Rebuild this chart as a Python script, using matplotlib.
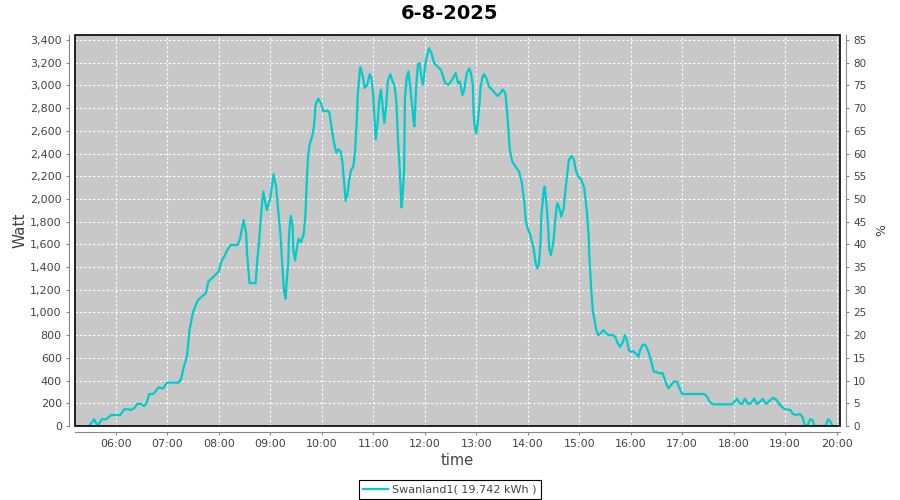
import matplotlib
matplotlib.use("Agg")
import matplotlib.pyplot as plt
from matplotlib.patches import Rectangle
from matplotlib.ticker import FuncFormatter

title = "6-8-2025"
series_name = "Swanland1( 19.742 kWh )"

times = [
    "05:29", "05:35", "05:39", "05:44", "05:49", "05:55", "06:00", "06:05", "06:10", "06:15",
    "06:18", "06:22", "06:25", "06:30", "06:33", "06:36", "06:39", "06:44", "06:48", "06:50",
    "06:55", "07:00", "07:10", "07:13", "07:16", "07:19", "07:23", "07:26", "07:30", "07:33",
    "07:36", "07:42", "07:45", "07:48", "07:52", "07:56", "08:00", "08:03", "08:07", "08:10",
    "08:14", "08:22", "08:25", "08:29", "08:32", "08:33", "08:36", "08:40", "08:43", "08:45",
    "08:47", "08:50", "08:52", "08:56", "08:58", "09:00", "09:04", "09:07", "09:09", "09:12",
    "09:14", "09:16", "09:18", "09:19", "09:21", "09:22", "09:24", "09:26", "09:27", "09:29",
    "09:30", "09:33", "09:36", "09:39", "09:41", "09:43", "09:44", "09:46", "09:49", "09:51",
    "09:53", "09:56", "09:59", "10:02", "10:07", "10:09", "10:11", "10:14", "10:17", "10:19",
    "10:22", "10:24", "10:26", "10:28", "10:30", "10:32", "10:34", "10:37", "10:39", "10:41",
    "10:42", "10:44", "10:45", "10:48", "10:50", "10:53", "10:56", "10:58", "11:00", "11:02",
    "11:03", "11:05", "11:07", "11:09", "11:10", "11:12", "11:13", "11:15", "11:17", "11:20",
    "11:22", "11:25", "11:27", "11:29", "11:31", "11:33", "11:34", "11:36", "11:37", "11:39",
    "11:41", "11:43", "11:45", "11:47", "11:48", "11:50", "11:52", "11:54", "11:56", "11:58",
    "12:00", "12:02", "12:05", "12:08", "12:11", "12:15", "12:19", "12:22", "12:24", "12:28",
    "12:32", "12:36", "12:39", "12:41", "12:44", "12:46", "12:49", "12:52", "12:54", "12:56",
    "12:57", "12:58", "13:00", "13:02", "13:04", "13:05", "13:07", "13:09", "13:12", "13:15",
    "13:19", "13:22", "13:25", "13:28", "13:31", "13:34", "13:36", "13:38", "13:39", "13:42",
    "13:46", "13:50", "13:53", "13:56", "13:58", "14:00", "14:03", "14:07", "14:09", "14:11",
    "14:13", "14:15", "14:16", "14:19", "14:20", "14:22", "14:24", "14:25", "14:27", "14:30",
    "14:32", "14:34", "14:35", "14:38", "14:39", "14:42", "14:44", "14:46", "14:48", "14:51",
    "14:54", "14:56", "14:59", "15:02", "15:04", "15:06", "15:09", "15:11", "15:12", "15:14",
    "15:16", "15:18", "15:20", "15:22", "15:25", "15:28", "15:31", "15:34", "15:39", "15:42",
    "15:45", "15:48", "15:51", "15:53", "15:55", "15:58", "16:00", "16:03", "16:07", "16:09",
    "16:11", "16:14", "16:17", "16:20", "16:23", "16:25", "16:27", "16:30", "16:33", "16:37",
    "16:39", "16:42", "16:44", "16:47", "16:50", "16:54", "16:57", "17:00", "17:26", "17:29",
    "17:32", "17:36", "17:58", "18:01", "18:04", "18:07", "18:10", "18:13", "18:17", "18:20",
    "18:24", "18:27", "18:30", "18:34", "18:38", "18:42", "18:46", "18:50", "18:54", "18:58",
    "19:01", "19:06", "19:09", "19:13", "19:17", "19:20", "19:23", "19:26", "19:29", "19:32",
    "19:34", "19:47", "19:50", "19:52", "19:55",
]

watts = [
    0, 59, 0, 60, 60, 97, 97, 95, 147, 147,
    140, 160, 194, 194, 175, 200, 282, 282, 320, 340,
    330, 382, 382, 380, 410, 508, 611, 845, 1000, 1060,
    1110, 1150, 1169, 1271, 1300, 1330, 1360, 1447, 1500, 1550,
    1594, 1594, 1653, 1814, 1700, 1521, 1257, 1260, 1257, 1460,
    1620, 1917, 2064, 1902, 1950, 2000, 2217, 2100, 1925, 1690,
    1430, 1195, 1122, 1254, 1430, 1690, 1852, 1779, 1546, 1458,
    1517, 1650, 1620, 1690, 1852, 2217, 2363, 2480, 2553, 2640,
    2830, 2883, 2845, 2772, 2778, 2758, 2655, 2509, 2407, 2436,
    2422, 2334, 2159, 1984, 2042, 2159, 2247, 2290, 2422, 2714,
    2918, 3093, 3161, 3079, 2977, 3006, 3099, 3064, 2918, 2655,
    2524, 2655, 2860, 2962, 2889, 2743, 2670, 2801, 3035, 3099,
    3050, 2991, 2860, 2509, 2247, 1925, 1998, 2247, 2889, 3064,
    3123, 3006, 2845, 2685, 2640, 2977, 3181, 3196, 3079, 3006,
    3137, 3240, 3327, 3283, 3196, 3166, 3137, 3064, 3020, 3006,
    3050, 3108, 3020, 3033, 2915, 2959, 3106, 3150, 3106, 3004,
    2769, 2651, 2578, 2680, 2857, 2974, 3062, 3100, 3062, 2989,
    2959, 2930, 2907, 2930, 2965, 2930, 2769, 2563, 2445, 2328,
    2284, 2240, 2152, 1976, 1799, 1741, 1682, 1564, 1447, 1388,
    1418, 1623, 1858, 2093, 2108, 1947, 1741, 1564, 1506, 1623,
    1799, 1947, 1961, 1888, 1844, 1917, 2079, 2211, 2343, 2378,
    2343, 2255, 2196, 2175, 2137, 2093, 1888, 1682, 1476, 1212,
    1006, 933, 845, 801, 816, 845, 821, 801, 801, 786,
    727, 698, 742, 801, 772, 668, 654, 659, 630, 610,
    668, 718, 713, 668, 595, 536, 478, 478, 463, 469,
    428, 361, 331, 361, 390, 390, 331, 282, 282, 258,
    214, 191, 191, 214, 240, 200, 194, 240, 194, 200,
    243, 194, 211, 238, 194, 223, 249, 229, 185, 155,
    147, 141, 106, 97, 106, 82, 9, 0, 59, 53,
    0, 0, 59, 47, 0,
]

hour_ticks = list(range(6, 21))
watt_ticks = list(range(0, 3401, 200))
pct_ticks = list(range(0, 86, 5))


def to_hours(s):
    h, m = s.split(":")
    return int(h) + int(m) / 60


hours = [to_hours(t) for t in times]

line_color = "#00CCCC"
text_color = "#444444"
axis_color = "#888888"

fig = plt.figure(figsize=(9, 5), dpi=100)
ax = fig.add_axes([75 / 900, 1 - 426 / 500, 765 / 900, 391 / 500])
ax.set_facecolor("#C8C8C8")

ax.plot(hours, watts, color=line_color, lw=1.6, label=series_name, zorder=3)

ax.set_xlim(5.21, 20.065)
ax.set_ylim(0, 3444)
ax.set_xticks(hour_ticks)
ax.xaxis.set_major_formatter(FuncFormatter(lambda v, p: "%02d:00" % int(round(v))))
ax.set_yticks(watt_ticks)
ax.yaxis.set_major_formatter(FuncFormatter(lambda v, p: "{:,}".format(int(v))))
ax.grid(True, color="white", lw=0.8, linestyle=(0, (2, 2)))

for side in ["top", "right"]:
    ax.spines[side].set_visible(False)
for side in ["left", "bottom"]:
    ax.spines[side].set_position(("outward", 4))
    ax.spines[side].set_color(axis_color)
ax.add_patch(Rectangle((0, 0), 1, 1, transform=ax.transAxes, fill=False,
                       edgecolor="black", lw=1.2, zorder=4, clip_on=False))
ax.tick_params(axis="both", colors=axis_color, labelcolor=text_color,
               labelsize=8, length=2, direction="out")

ax.set_ylabel("Watt", fontsize=11, color=text_color, labelpad=2)
ax.set_xlabel("time", fontsize=10.5, color=text_color, labelpad=3)

ax2 = ax.twinx()
ax2.set_ylim(0, 3444 / 40)
ax2.set_yticks(pct_ticks)
for side in ["top", "left", "bottom"]:
    ax2.spines[side].set_visible(False)
ax2.spines["right"].set_position(("outward", 4))
ax2.spines["right"].set_color(axis_color)
ax2.tick_params(axis="y", colors=axis_color, labelcolor=text_color,
                labelsize=7.5, length=2, direction="out")
ax2.set_ylabel("%", fontsize=9, color=text_color, labelpad=6)

fig.suptitle(title, fontsize=14, fontweight="bold", y=0.992)

leg = fig.legend(loc="lower center", bbox_to_anchor=(0.5, 0.0), fontsize=8,
                 frameon=True, fancybox=False, edgecolor="black", framealpha=1,
                 handlelength=2.2, borderpad=0.4, handletextpad=0.4,
                 borderaxespad=0.1)
leg.get_frame().set_linewidth(0.8)
for t in leg.get_texts():
    t.set_color(text_color)

fig.savefig("out.png", dpi=100)
